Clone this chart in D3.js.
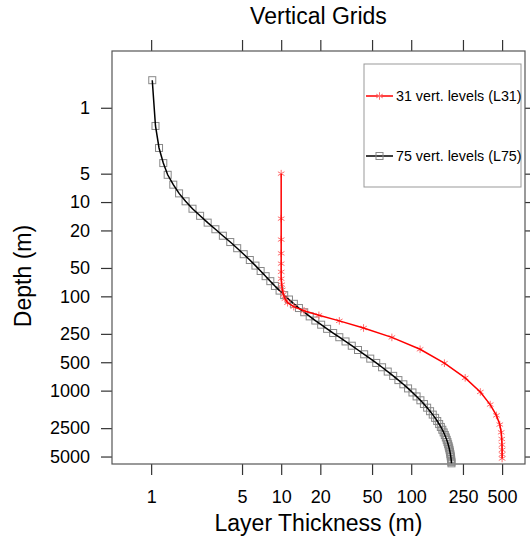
<!DOCTYPE html>
<html>
<head>
<meta charset="utf-8">
<script src="https://cdn.jsdelivr.net/npm/d3@7"></script>
<style>
  body { margin: 0; background: #fff; }
  svg { font-family: "Liberation Sans", Arial, Helvetica, sans-serif; }
</style>
</head>
<body>
<div id="chart"></div>
<script>

// 75 level grid (L75): depth of level and layer thickness
var l75_depth = [0.51, 1.56, 2.67, 3.86, 5.14, 6.54, 8.09, 9.82, 11.77, 13.99,
	16.53, 19.43, 22.76, 26.56, 30.87, 35.74, 41.18, 47.21, 53.85, 61.11,
	69.02, 77.61, 86.93, 97.04, 108.03, 120.0, 133.08, 147.41, 163.16, 180.55,
	199.79, 221.14, 244.89, 271.36, 300.89, 333.86, 370.69, 411.79, 457.63, 508.64,
	565.29, 628.03, 697.26, 773.37, 856.68, 947.45, 1045.85, 1151.99, 1265.86, 1387.38,
	1516.36, 1652.57, 1795.67, 1945.3, 2101.03, 2262.42, 2429.03, 2600.38, 2776.04, 2955.57,
	3138.57, 3324.64, 3513.45, 3704.66, 3897.98, 4093.16, 4289.95, 4488.16, 4687.58, 4888.07,
	5089.48, 5291.68, 5494.58, 5698.06, 5902.06];
var l75_thick = [1.02, 1.08, 1.15, 1.24, 1.34, 1.48, 1.64, 1.84, 2.08, 2.38,
	2.72, 3.12, 3.56, 4.06, 4.59, 5.15, 5.74, 6.34, 6.95, 7.59,
	8.25, 8.95, 9.72, 10.55, 11.48, 12.52, 13.7, 15.04, 16.57, 18.31,
	20.3, 22.55, 25.11, 28.0, 31.25, 34.9, 38.97, 43.47, 48.42, 53.83,
	59.69, 65.98, 72.67, 79.71, 87.04, 94.59, 102.27, 110.0, 117.69, 125.25,
	132.6, 139.65, 146.36, 152.68, 158.56, 164.0, 168.98, 173.51, 177.6, 181.26,
	184.54, 187.44, 190.01, 192.27, 194.25, 195.99, 197.5, 198.81, 199.96, 200.95,
	201.81, 202.55, 203.19, 203.74, 204.0];

// 31 level grid (L31)
var l31_depth = [5.0, 15.0, 25.0, 35.01, 45.01, 55.03, 65.06, 75.13, 85.25, 95.49,
	105.97, 116.9, 128.7, 142.2, 158.96, 181.96, 216.65, 272.48, 364.3, 511.53,
	732.2, 1033.22, 1405.7, 1830.89, 2289.77, 2768.24, 3257.48, 3752.44, 4250.4, 4749.91,
	5250.23];
var l31_thick = [10.0, 10.0, 10.0, 10.0, 10.0, 10.0, 10.0, 10.1, 10.2, 10.4,
	10.7, 11.2, 12.5, 15.0, 19.5, 28.0, 43.0, 71.0, 117.0, 180.0,
	260.0, 340.0, 405.0, 452.0, 480.0, 492.0, 497.0, 499.0, 500.0, 500.0,
	500.0];

var x_ticks = [1, 5, 10, 20, 50, 100, 250, 500];
var y_ticks = [1, 5, 10, 20, 50, 100, 250, 500, 1000, 2500, 5000];
var series_names = ["31 vert. levels (L31)", "75 vert. levels (L75)"];

var width = 530;
var height = 541;
var plot_l = 112, plot_r = 525, plot_t = 51, plot_b = 464;
var tick_len = 11;

var svg = d3.select("#chart")
		.append("svg")
		.attr("width", width)
		.attr("height", height);

var xScale = d3.scaleLog()
		.domain([0.5, 750])
		.range([plot_l, plot_r]);

var yScale = d3.scaleLog()
		.domain([0.25, 6000])
		.range([plot_t, plot_b]);

var fmt = function(d) { return String(d); };

var xAxisBottom = d3.axisBottom(xScale).tickValues(x_ticks).tickFormat(fmt)
		.tickSize(tick_len).tickPadding(15);
var xAxisTop = d3.axisTop(xScale).tickValues(x_ticks).tickFormat("")
		.tickSize(tick_len);
var yAxisLeft = d3.axisLeft(yScale).tickValues(y_ticks).tickFormat(fmt)
		.tickSize(tick_len).tickPadding(11);
var yAxisRight = d3.axisRight(yScale).tickValues(y_ticks).tickFormat("")
		.tickSize(tick_len);

function style_axis(g) {
	g.select(".domain").remove();
	g.selectAll(".tick line").attr("stroke", "#333").attr("stroke-width", 1.2);
	g.selectAll(".tick text").attr("fill", "#000").attr("font-size", 18)
		.attr("font-family", "Liberation Sans, Arial, sans-serif");
}

svg.append("g").attr("transform", "translate(0," + plot_b + ")").call(xAxisBottom).call(style_axis);
svg.append("g").attr("transform", "translate(0," + plot_t + ")").call(xAxisTop).call(style_axis);
svg.append("g").attr("transform", "translate(" + plot_l + ",0)").call(yAxisLeft).call(style_axis);
svg.append("g").attr("transform", "translate(" + plot_r + ",0)").call(yAxisRight).call(style_axis);

// frame
svg.append("rect")
	.attr("x", plot_l)
	.attr("y", plot_t)
	.attr("width", plot_r - plot_l)
	.attr("height", plot_b - plot_t)
	.attr("fill", "none")
	.attr("stroke", "#555")
	.attr("stroke-width", 1.2);

// titles
svg.append("text")
	.attr("x", (plot_l + plot_r) / 2)
	.attr("y", 24)
	.attr("text-anchor", "middle")
	.attr("font-size", 23)
	.text("Vertical Grids");

svg.append("text")
	.attr("x", (plot_l + plot_r) / 2)
	.attr("y", 531)
	.attr("text-anchor", "middle")
	.attr("font-size", 23)
	.text("Layer Thickness (m)");

svg.append("text")
	.attr("transform", "rotate(-90)")
	.attr("x", -276)
	.attr("y", 31)
	.attr("text-anchor", "middle")
	.attr("font-size", 23)
	.text("Depth (m)");

var line = d3.line()
		.x(function(d) { return xScale(d[0]); })
		.y(function(d) { return yScale(d[1]); });

var l75 = d3.zip(l75_thick, l75_depth);
var l31 = d3.zip(l31_thick, l31_depth);

// asterisk marker path
function star(r) {
	var p = "";
	[90, 30, 150].forEach(function(a) {
		var dx = r * Math.cos(a * Math.PI / 180), dy = r * Math.sin(a * Math.PI / 180);
		p += "M" + (-dx) + "," + (-dy) + "L" + dx + "," + dy;
	});
	return p;
}

function draw_squares(g, data) {
	g.selectAll("rect")
		.data(data)
		.enter()
		.append("rect")
		.attr("x", function(d) { return xScale(d[0]) - 3.5; })
		.attr("y", function(d) { return yScale(d[1]) - 3.5; })
		.attr("width", 7)
		.attr("height", 7)
		.attr("fill", "none")
		.attr("stroke", "#888")
		.attr("stroke-width", 1);
}

function draw_stars(g, data) {
	g.selectAll("path")
		.data(data)
		.enter()
		.append("path")
		.attr("transform", function(d) { return "translate(" + xScale(d[0]) + "," + yScale(d[1]) + ")"; })
		.attr("d", star(3.8))
		.attr("stroke", "#ff7070")
		.attr("stroke-width", 1);
}

// L75 black
draw_squares(svg.append("g"), l75);
svg.append("path")
	.datum(l75)
	.attr("d", line)
	.attr("fill", "none")
	.attr("stroke", "#000")
	.attr("stroke-width", 1.5);

// L31 red
draw_stars(svg.append("g"), l31);
svg.append("path")
	.datum(l31)
	.attr("d", line)
	.attr("fill", "none")
	.attr("stroke", "#ff0000")
	.attr("stroke-width", 1.5);

// legend
var legend = svg.append("g");
legend.append("rect")
	.attr("x", 364)
	.attr("y", 64)
	.attr("width", 157)
	.attr("height", 123)
	.attr("fill", "#fff")
	.attr("stroke", "#999")
	.attr("stroke-width", 1);

var legend_y = [96, 156];
var legend_col = ["#ff0000", "#000"];

legend.selectAll("line")
	.data(series_names)
	.enter()
	.append("line")
	.attr("x1", 366)
	.attr("x2", 393)
	.attr("y1", function(d, i) { return legend_y[i]; })
	.attr("y2", function(d, i) { return legend_y[i]; })
	.attr("stroke", function(d, i) { return legend_col[i]; })
	.attr("stroke-width", 1.5);

legend.append("path")
	.attr("transform", "translate(379.5," + legend_y[0] + ")")
	.attr("d", star(3.8))
	.attr("stroke", "#ff7070")
	.attr("stroke-width", 1);

legend.append("rect")
	.attr("x", 376)
	.attr("y", legend_y[1] - 3.5)
	.attr("width", 7)
	.attr("height", 7)
	.attr("fill", "none")
	.attr("stroke", "#888");

legend.selectAll("text")
	.data(series_names)
	.enter()
	.append("text")
	.attr("x", 396)
	.attr("y", function(d, i) { return legend_y[i]; })
	.attr("dy", "0.35em")
	.attr("font-size", 14.3)
	.text(function(d) { return d; });

</script>
</body>
</html>
